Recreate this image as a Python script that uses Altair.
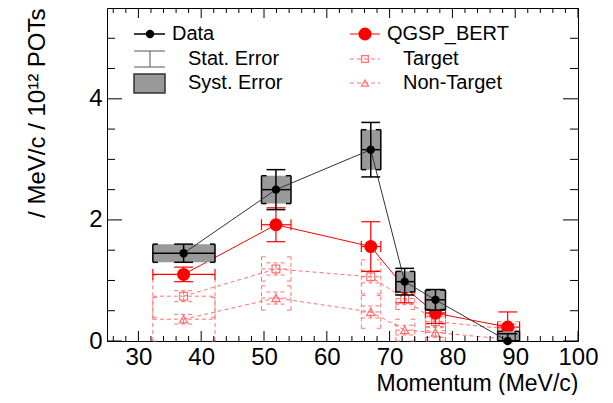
import altair as alt
import pandas as pd

# ---------------- data ----------------
x_c  = [37.2, 51.9, 67.0, 72.4, 77.3, 88.8]
x_lo = [32.3, 49.6, 65.5, 71.0, 75.7, 87.2]
x_hi = [42.2, 54.3, 68.6, 74.0, 78.9, 90.7]

data_y    = [1.45, 2.50, 3.16, 0.98, 0.68, 0.00]
data_stat = [0.15, 0.33, 0.45, 0.22, 0.17, 0.12]
data_syst = [0.15, 0.23, 0.33, 0.17, 0.16, 0.16]

mc_y    = [1.10, 1.92, 1.56, 0.88, 0.46, 0.23]
mc_stat = [0.12, 0.28, 0.41, 0.25, 0.17, 0.25]

tgt_y    = [0.74, 1.19, 1.06, 0.70, 0.32, 0.20]
tgt_stat = [0.09, 0.10, 0.10, 0.10, 0.08, 0.08]
tgt_syst = [0.35, 0.20, 0.28, 0.18, 0.15, 0.12]

non_y    = [0.36, 0.71, 0.48, 0.18, 0.14, 0.03]
non_stat = [0.08, 0.10, 0.10, 0.08, 0.08, 0.05]
non_syst = [0.36, 0.20, 0.27, 0.18, 0.14, 0.05]

x_major = [30, 40, 50, 60, 70, 80, 90, 100]
x_minor = [26, 28, 32, 34, 36, 38, 42, 44, 46, 48, 52, 54, 56, 58, 62, 64, 66, 68,
           72, 74, 76, 78, 82, 84, 86, 88, 92, 94, 96, 98]
y_major = [0, 2, 4]
y_minor = [0.5, 1.0, 1.5, 2.5, 3.0, 3.5, 4.5, 5.0]

x_title = "Momentum (MeV/c)"
y_title = "/ MeV/c / 10\u00b9\u00b2 POTs"

# ---------------- styling ----------------
FONT = "Liberation Sans"
W, H = 471, 333
CAP = 1.5      # half width of stat caps (x units)
STUB = 0.8     # bracket stub length (x units)
TICK = 0.09    # half length of x-error end ticks (y units)
RED = "#ff0000"
PINK = "#ff7070"
DASH = [4, 3]

xs = alt.Scale(domain=[25, 100], nice=False, zero=False)
ys = alt.Scale(domain=[0, 5.5], nice=False, zero=False)

xaxis = alt.Axis(title=x_title, values=x_major, ticks=False, domain=False, grid=False,
                 labelFont=FONT, labelFontSize=24, labelColor="black", labelPadding=4,
                 labelFlush=False, labelOverlap=False,
                 titleFont=FONT, titleFontSize=23, titleFontWeight="normal", titleColor="black",
                 titleX=W, titleY=49, titleAlign="right", titleBaseline="alphabetic")
yaxis = alt.Axis(title=y_title, values=y_major, ticks=False, domain=False, grid=False,
                 labelFont=FONT, labelFontSize=24, labelColor="black", labelPadding=5,
                 labelOverlap=False,
                 titleFont=FONT, titleFontSize=24, titleFontWeight="normal", titleColor="black",
                 titleX=-63, titleY=0, titleAngle=270, titleAlign="right",
                 titleBaseline="alphabetic")


def X(f):
    return alt.X(f"{f}:Q", scale=xs, axis=xaxis)


def Y(f):
    return alt.Y(f"{f}:Q", scale=ys, axis=yaxis)


def rule(df, x, y, x2=None, y2=None, color="black", sw=1.0, dash=None, op=1.0):
    kw = dict(color=color, strokeWidth=sw, opacity=op)
    if dash:
        kw["strokeDash"] = dash
    enc = {"x": X(x), "y": Y(y)}
    if x2:
        enc["x2"] = alt.X2(x2)
    if y2:
        enc["y2"] = alt.Y2(y2)
    return alt.Chart(df).mark_rule(**kw).encode(**enc)


def frame(y, stat, syst=None):
    d = pd.DataFrame({"x": x_c, "xlo": x_lo, "xhi": x_hi, "y": y})
    d["slo"] = (d["y"] - pd.Series(stat)).clip(lower=0)
    d["shi"] = d["y"] + pd.Series(stat)
    d["cl"] = d["x"] - CAP
    d["cr"] = d["x"] + CAP
    d["tlo"] = d["y"] - TICK
    d["thi"] = d["y"] + TICK
    if syst is not None:
        d["ylo"] = (d["y"] - pd.Series(syst)).clip(lower=0)
        d["yhi"] = d["y"] + pd.Series(syst)
    return d


def edges(d):
    left = d.assign(xe=d["xlo"], xs=d["xlo"] + STUB)
    right = d.assign(xe=d["xhi"], xs=d["xhi"] - STUB)
    return pd.concat([left, right], ignore_index=True)


layers = []

# ---------- Target / Non-Target (dashed, light red) ----------
for yv, st, sy, shape, size in [(tgt_y, tgt_stat, tgt_syst, "square", 60),
                                 (non_y, non_stat, non_syst, "triangle-up", 70)]:
    d = frame(yv, st, sy)
    e = edges(d)
    layers += [
        rule(e, "xe", "ylo", y2="yhi", color=PINK, dash=DASH),
        rule(e, "xe", "ylo", x2="xs", color=PINK, dash=DASH),
        rule(e, "xe", "yhi", x2="xs", color=PINK, dash=DASH),
        rule(d, "xlo", "y", x2="xhi", color=PINK, dash=DASH),
        rule(d, "x", "slo", y2="shi", color=PINK, dash=DASH),
        rule(d, "cl", "slo", x2="cr", color=PINK, dash=DASH),
        rule(d, "cl", "shi", x2="cr", color=PINK, dash=DASH),
        alt.Chart(d).mark_line(color=PINK, strokeWidth=1, strokeDash=DASH).encode(x=X("x"), y=Y("y")),
        alt.Chart(d).mark_point(shape=shape, filled=False, size=size, color=PINK, strokeWidth=1.2,
                                opacity=1).encode(x=X("x"), y=Y("y")),
    ]

# ---------- QGSP_BERT (red) ----------
m = frame(mc_y, mc_stat)
me = edges(m)
layers += [
    alt.Chart(m).mark_line(color=RED, strokeWidth=1).encode(x=X("x"), y=Y("y")),
    rule(m, "xlo", "y", x2="xhi", color=RED, sw=1.2),
    rule(me, "xe", "tlo", y2="thi", color=RED, sw=1.2),
    rule(m, "x", "slo", y2="shi", color=RED, sw=1.2),
    rule(m, "cl", "slo", x2="cr", color=RED, sw=1.2),
    rule(m, "cl", "shi", x2="cr", color=RED, sw=1.2),
    alt.Chart(m).mark_point(shape="circle", filled=True, size=170, color=RED, opacity=1
                            ).encode(x=X("x"), y=Y("y")),
]

# ---------- Data (black, grey syst boxes) ----------
dd = frame(data_y, data_stat, data_syst)
de = edges(dd)
layers += [
    alt.Chart(dd).mark_rect(color="#999999", opacity=1).encode(
        x=X("xlo"), x2=alt.X2("xhi"), y=Y("ylo"), y2=alt.Y2("yhi")),
    rule(de, "xe", "ylo", y2="yhi", sw=1.5),
    rule(de, "xe", "ylo", x2="xs", sw=1.5),
    rule(de, "xe", "yhi", x2="xs", sw=1.5),
    alt.Chart(dd).mark_line(color="#333333", strokeWidth=1).encode(x=X("x"), y=Y("y")),
    rule(dd, "xlo", "y", x2="xhi", sw=1.5),
    rule(dd, "x", "slo", y2="shi", sw=1.5),
    rule(dd, "cl", "slo", x2="cr", sw=1.5),
    rule(dd, "cl", "shi", x2="cr", sw=1.5),
    alt.Chart(dd).mark_point(shape="circle", filled=True, size=70, color="black", opacity=1
                             ).encode(x=X("x"), y=Y("y")),
]

# ---------- inward ticks (ROOT style) ----------
xmj = pd.DataFrame({"v": x_major})
xmn = pd.DataFrame({"v": x_minor})
ymj = pd.DataFrame({"v": y_major})
ymn = pd.DataFrame({"v": y_minor})
for df, L in [(xmj, 10), (xmn, 5)]:
    layers.append(alt.Chart(df).mark_rule(color="black", strokeWidth=1).encode(
        x=X("v"), y=alt.value(H), y2=alt.value(H - L)))
    layers.append(alt.Chart(df).mark_rule(color="black", strokeWidth=1).encode(
        x=X("v"), y=alt.value(0), y2=alt.value(L)))
for df, L in [(ymj, 15), (ymn, 8)]:
    layers.append(alt.Chart(df).mark_rule(color="black", strokeWidth=1).encode(
        y=Y("v"), x=alt.value(0), x2=alt.value(L)))
    layers.append(alt.Chart(df).mark_rule(color="black", strokeWidth=1).encode(
        y=Y("v"), x=alt.value(W), x2=alt.value(W - L)))

# ---------- legend ----------
one = pd.DataFrame({"k": [0]})


def ltext(t, px, py):
    return alt.Chart(one).mark_text(text=t, align="left", baseline="middle", font=FONT,
                                    fontSize=20, color="black").encode(
        x=alt.value(px), y=alt.value(py))


def lrule(x1, x2, y1, y2, color="black", sw=1.0, dash=None):
    kw = dict(color=color, strokeWidth=sw)
    if dash:
        kw["strokeDash"] = dash
    return alt.Chart(one).mark_rule(**kw).encode(
        x=alt.value(x1), x2=alt.value(x2), y=alt.value(y1), y2=alt.value(y2))


def lpoint(px, py, shape, size, color, filled):
    return alt.Chart(one).mark_point(shape=shape, size=size, color=color, filled=filled,
                                     opacity=1, strokeWidth=1.2).encode(
        x=alt.value(px), y=alt.value(py))


LY = [26, 51, 75]
layers += [
    lrule(27, 58, LY[0], LY[0], sw=1.5),
    lpoint(43, LY[0], "circle", 70, "black", True),
    ltext("Data", 65, LY[0]),
    lrule(43, 43, LY[1] - 8, LY[1] + 8, color="#555555"),
    lrule(27, 58, LY[1] - 8, LY[1] - 8, color="#555555"),
    lrule(27, 58, LY[1] + 8, LY[1] + 8, color="#555555"),
    ltext("Stat. Error", 81, LY[1]),
    alt.Chart(one).mark_rect(color="#999999", stroke="#333333", strokeWidth=1.5).encode(
        x=alt.value(27), x2=alt.value(58), y=alt.value(LY[2] - 9), y2=alt.value(LY[2] + 10)),
    ltext("Syst. Error", 81, LY[2]),
    lrule(243, 273, LY[0], LY[0], color=RED),
    lpoint(258, LY[0], "circle", 170, RED, True),
    ltext("QGSP_BERT", 280, LY[0]),
    lrule(243, 273, LY[1], LY[1], color=PINK, dash=DASH),
    lpoint(258, LY[1], "square", 45, PINK, False),
    ltext("Target", 296, LY[1]),
    lrule(243, 273, LY[2], LY[2], color=PINK, dash=DASH),
    lpoint(258, LY[2], "triangle-up", 50, PINK, False),
    ltext("Non-Target", 296, LY[2]),
]

chart = alt.layer(*layers).properties(
    width=W, height=H,
    padding={"left": 99, "top": 0, "right": 27, "bottom": 54},
    autosize=alt.AutoSizeParams(type="none"),
).configure_view(stroke="black", strokeWidth=1)

chart.save("out.html", embed_options={"renderer": "svg", "actions": False})
